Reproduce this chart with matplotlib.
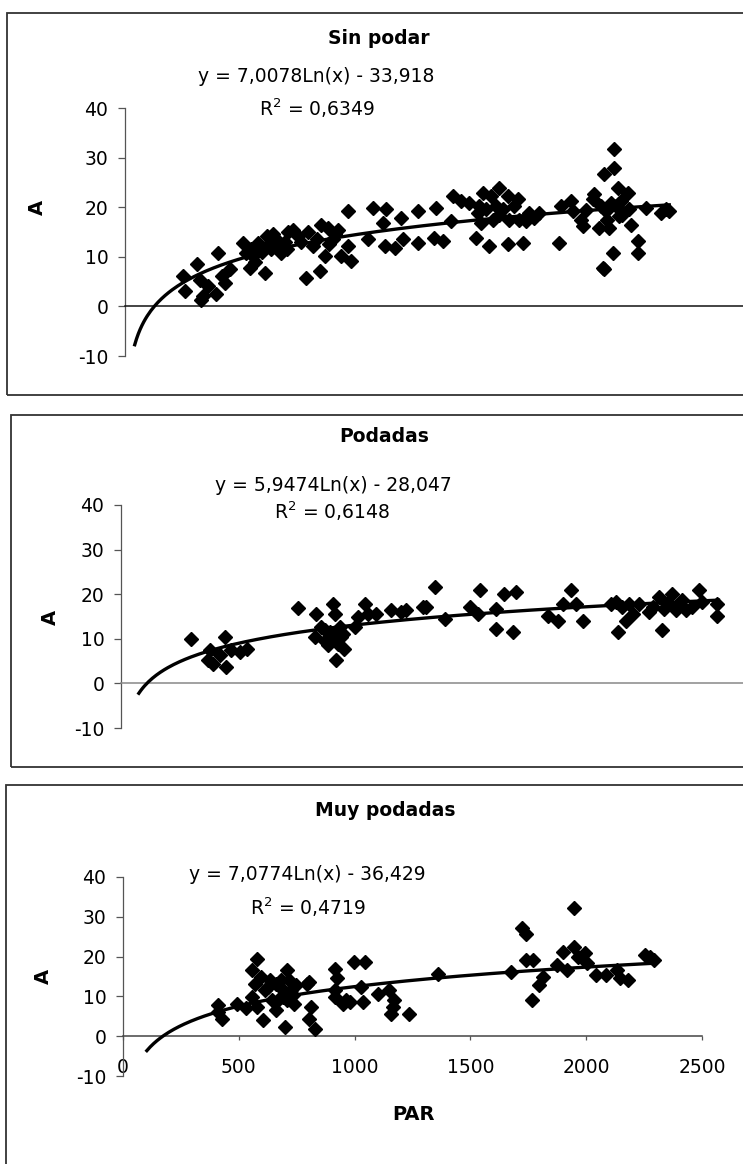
import numpy as np
import matplotlib
matplotlib.use("Agg")
import matplotlib.pyplot as plt
from matplotlib.patches import Rectangle

plt.rcParams['font.family'] = ['DejaVu Sans']
plt.rcParams['axes.unicode_minus'] = False

# datos (PAR, A)
titulos = ["Sin podar", "Podadas", "Muy podadas"]
ecuaciones = ["y = 7,0078Ln(x) - 33,918", "y = 5,9474Ln(x) - 28,047", "y = 7,0774Ln(x) - 36,429"]
r2_textos = ["R$^2$ = 0,6349", "R$^2$ = 0,6148", "R$^2$ = 0,4719"]
pendientes = [7.0078, 5.9474, 7.0774]
intercepts = [-33.918, -28.047, -36.429]
tend_inicio = [42, 77, 103]
tend_fin = [2350, 2580, 2290]
y_ticks = [-10, 0, 10, 20, 30, 40]
x_ticks = [0, 500, 1000, 1500, 2000, 2500]

par1 = [251, 259, 309, 323, 338, 359, 395, 402, 417, 431, 453, 510, 524, 539, 553, 575, 603, 611, 632, 654,
        675, 704, 726, 747, 783, 790, 812, 841, 848, 862, 876, 898, 920, 934, 963, 963, 977, 1049, 1070, 1113,
        1128, 1121, 1164, 1193, 1200, 1264, 1264, 1341, 1336, 1372, 1408, 1415, 1451, 1487, 1516, 1523, 1545, 1537, 1573, 1580,
        1617, 1617, 1652, 1652, 1659, 1695, 1717, 1731, 1767, 1789, 1875, 1882, 1925, 1933, 1968, 1976, 2019, 2026, 2047, 2055,
        2062, 2069, 2091, 2105, 2112, 2112, 2127, 2134, 2141, 2170, 2177, 2184, 2213, 2213, 2249, 2313, 2335, 2349,
        329, 545, 560, 590, 620, 640, 665, 690, 700, 760, 830, 880, 905, 1530, 1559, 1602, 1631, 1588, 1681, 1703,
        1746, 2076, 2098, 2120, 2148, 2083, 2070, 1990]
a1 = [6.1, 3.1, 8.5, 5.4, 2.1, 4.1, 2.4, 10.8, 6.1, 4.8, 7.5, 12.8, 10.8, 7.8, 10.1, 12.8, 6.8, 14.2, 11.5, 13.5,
      10.8, 14.9, 15.5, 14.2, 5.8, 14.9, 12.2, 7.1, 16.5, 10.1, 15.9, 13.5, 15.5, 10.1, 19.2, 12.2, 9.1, 13.5, 19.9, 16.9,
      19.6, 12.2, 11.8, 17.9, 13.5, 19.2, 12.8, 19.9, 13.8, 13.2, 17.2, 22.2, 21.2, 20.9, 13.8, 18.9, 22.9, 16.9, 12.2, 22.2,
      23.9, 18.5, 22.2, 12.5, 17.5, 21.6, 12.8, 17.2, 17.9, 18.9, 12.8, 20.2, 21.2, 19.2, 17.5, 16.2, 21.6, 22.6, 15.9, 20.2,
      7.8, 26.6, 15.9, 10.8, 28.0, 31.7, 23.9, 18.2, 21.2, 22.9, 19.6, 16.5, 13.2, 10.8, 19.9, 18.9, 19.6, 19.2,
      1.3, 11.5, 9.0, 11.0, 12.5, 14.5, 12.0, 13.0, 11.5, 13.0, 13.5, 12.5, 14.5, 20.2, 19.6, 20.2, 19.6, 17.5, 20.2, 17.5,
      18.9, 19.2, 20.9, 20.2, 18.5, 17.5, 7.5, 19.5]

par2 = [302, 384, 376, 398, 448, 455, 427, 477, 513, 542, 764, 843, 836, 865, 879, 901, 915, 922, 930, 937,
        951, 965, 944, 1023, 1052, 1009, 1066, 1102, 1167, 1210, 1231, 1303, 1354, 1318, 1397, 1505, 1548, 1540, 1619, 1619,
        1655, 1706, 1691, 1842, 1885, 1907, 1943, 1964, 1993, 2137, 2144, 2165, 2194, 2209, 2237, 2280, 2324, 2338, 2345, 2381,
        2395, 2424, 2438, 2496, 2510, 2575, 2575, 2115, 2180, 2295, 2359, 2410, 2467,
        880, 905, 925, 895, 960]
a2 = [9.9, 7.4, 5.2, 4.4, 10.5, 3.7, 6.3, 7.4, 7.0, 7.8, 17.0, 15.6, 10.4, 12.6, 9.6, 11.5, 17.9, 15.6, 5.2, 8.9,
      10.4, 7.8, 12.6, 14.9, 17.9, 12.6, 15.6, 15.6, 16.4, 16.0, 16.4, 17.1, 21.6, 17.1, 14.5, 17.1, 20.9, 15.6, 16.7, 12.3,
      20.1, 20.5, 11.5, 15.2, 14.1, 17.9, 21.0, 17.9, 14.1, 18.2, 11.5, 17.1, 17.9, 15.6, 17.9, 16.0, 19.4, 11.9, 16.7, 20.1,
      16.4, 18.6, 16.4, 20.9, 18.2, 17.9, 15.2, 17.9, 14.1, 17.1, 17.9, 17.9, 17.1,
      12.0, 10.0, 11.0, 8.5, 11.0]

par3 = [412, 428, 412, 492, 532, 556, 580, 572, 556, 604, 612, 636, 644, 660, 676, 692, 700, 708, 716, 724,
        740, 732, 796, 812, 804, 828, 916, 924, 916, 948, 980, 996, 1044, 1028, 1036, 1100, 1148, 1164, 1156, 1172,
        1236, 1361, 1676, 1724, 1740, 1740, 1772, 1764, 1796, 1812, 1876, 1900, 1916, 1948, 1948, 1964, 1996, 2004, 2044, 2084,
        2132, 2148, 2180, 2252, 2276, 2292, 596, 628, 660, 684, 708, 668, 580, 748, 804, 916, 964]
a3 = [7.8, 4.4, 6.1, 8.2, 7.0, 16.6, 19.5, 13.2, 9.9, 4.0, 11.6, 14.1, 9.0, 6.5, 12.4, 9.9, 2.3, 16.6, 14.1, 11.6,
      8.2, 10.3, 13.2, 7.4, 4.4, 1.9, 17.0, 14.5, 9.9, 8.2, 8.6, 18.7, 18.7, 12.4, 8.6, 10.7, 11.6, 7.4, 5.7, 9.0,
      5.7, 15.7, 16.2, 27.1, 25.8, 19.1, 19.1, 9.0, 12.8, 14.9, 17.8, 21.2, 16.6, 32.1, 22.4, 19.9, 20.8, 18.3, 15.3, 15.3,
      16.6, 14.5, 14.1, 20.4, 19.9, 19.1, 14.9, 12.4, 13.2, 14.1, 9.0, 9.0, 7.4, 12.8, 13.7, 11.6, 9.0]

datos = [(par1, a1), (par2, a2), (par3, a3)]

W, H = 743, 1164
fig = plt.figure(figsize=(W / 100, H / 100), dpi=100)


def caja(x0, y0, x1, y1):
    return [x0 / W, 1 - y1 / H, (x1 - x0) / W, (y1 - y0) / H]


def texto(x, y, s, **kw):
    fig.text(x / W, 1 - y / H, s, ha='center', va='center', **kw)


# marcos de cada grafico (pixeles)
marcos = [(7, 13, 800, 395), (11, 415, 800, 767), (6, 785, 800, 1200)]
for x0, y0, x1, y1 in marcos:
    fig.add_artist(Rectangle((x0 / W, 1 - y1 / H), (x1 - x0) / W, (y1 - y0) / H,
                             transform=fig.transFigure, fill=False, ec='#333333', lw=1.3))

# posicion de los ejes: izquierda, y(40), derecha, y(-10)
ejes = [(125, 108, 743, 356), (121, 505, 743, 728), (123, 877, 702, 1076)]
px_por_unidad = 0.2316
color_cero = ['#111111', '#888888', '#444444']

for i, (x0, y0, x1, y1) in enumerate(ejes):
    ax = fig.add_axes(caja(x0, y0, x1, y1))
    ax.patch.set_alpha(0)
    par, a = datos[i]
    ax.plot(par, a, linestyle='none', marker='D', ms=7.6, color='black', zorder=3)
    xs = np.linspace(tend_inicio[i], tend_fin[i], 300)
    ax.plot(xs, pendientes[i] * np.log(xs) + intercepts[i], color='black', lw=2.4, zorder=4)

    ax.set_xlim(0, (x1 - x0) / px_por_unidad)
    ax.set_ylim(-10, 40)
    ax.set_yticks(y_ticks)
    for s in ['top', 'right']:
        ax.spines[s].set_visible(False)
    ax.spines['bottom'].set_position(('data', 0))
    ax.spines['bottom'].set_color(color_cero[i])
    ax.spines['bottom'].set_linewidth(1.1)
    ax.spines['left'].set_color('#555555')
    ax.spines['left'].set_linewidth(0.9)
    ax.tick_params(axis='y', direction='out', length=5, width=0.9, color='#555555',
                   pad=7, labelsize=13.5)
    if i < 2:
        ax.set_xticks([])
    else:
        ax.set_xticks(x_ticks)
        ax.tick_params(axis='x', direction='out', length=3, width=0.9, color='#555555',
                       pad=13, labelsize=13.5)

# textos
texto(379, 39, titulos[0], fontsize=13.5, fontweight='bold')
texto(316, 76, ecuaciones[0], fontsize=13.5)
texto(317, 108, r2_textos[0], fontsize=13.5)
texto(37, 207, "A", fontsize=14, fontweight='bold', rotation=90)

texto(384, 437, titulos[1], fontsize=13.5, fontweight='bold')
texto(333, 485, ecuaciones[1], fontsize=13.5)
texto(332, 511, r2_textos[1], fontsize=13.5)
texto(50, 617, "A", fontsize=14, fontweight='bold', rotation=90)

texto(385, 810, titulos[2], fontsize=13.5, fontweight='bold')
texto(307, 875, ecuaciones[2], fontsize=13.5)
texto(308, 907, r2_textos[2], fontsize=13.5)
texto(43, 976, "A", fontsize=14, fontweight='bold', rotation=90)
texto(413, 1114, "PAR", fontsize=14, fontweight='bold')

fig.savefig("out.png", dpi=100)
